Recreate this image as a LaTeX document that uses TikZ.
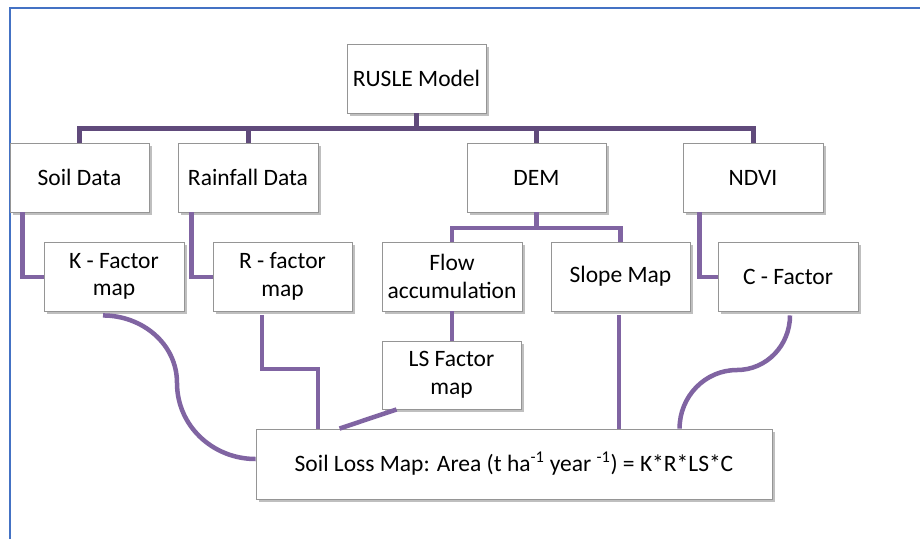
\documentclass[tikz,border=0pt]{standalone}
\usepackage{fontspec}
\setmainfont{Carlito}
\usetikzlibrary{shadows}
\definecolor{barpurple}{HTML}{604A7B}
\definecolor{linkpurple}{HTML}{8064A2}
\definecolor{boxgray}{HTML}{959595}
\definecolor{frameblue}{HTML}{4472C4}
\begin{document}
\begin{tikzpicture}[x=1pt,y=-1pt,
  box/.style={draw=boxgray, line width=0.9pt, fill=white, align=center,
    minimum width=139pt, minimum height=69pt, inner sep=0pt,
    font=\fontsize{23.5}{27.5}\selectfont,
    drop shadow={shadow xshift=2.5pt, shadow yshift=-2.5pt, opacity=0.25, fill=black}},
  topline/.style={draw=barpurple, line width=5pt},
  link/.style={draw=linkpurple, line width=4.5pt}]
\useasboundingbox (0,0) rectangle (920,539);
\fill[white] (0,0) rectangle (920,539);
\draw[frameblue, line width=1.5pt] (10,539) -- (10,8) -- (920,8);

\node[box] (rusle) at (416.5,78.5) {RUSLE Model};
\node[box] (soil)  at (79.5,177.5) {Soil Data};
\node[box, minimum width=140pt] (rain) at (248,177.5) {Rainfall Data};
\node[box] (dem)   at (536.5,177.5) {DEM};
\node[box, minimum width=140pt] (ndvi) at (753,177.5) {NDVI};
\node[box, minimum width=140pt] (kf) at (114,276.5) {K - Factor\\map};
\node[box] (rf)    at (282.5,276.5) {R - factor\\map};
\node[box, minimum width=140pt] (flow) at (452,276.5) {Flow\\accumulation};
\node[box] (slope) at (620.5,276.5) {Slope Map};
\node[box, minimum width=140pt] (cf) at (788,276.5) {C - Factor};
\node[box, minimum height=68pt] (ls) at (451.5,375) {LS Factor\\map};
\node[box, minimum width=516pt, minimum height=70pt] (loss) at (514,464)
  {Soil Loss Map: Area (t ha\textsuperscript{-1} year \textsuperscript{-1}) = K*R*LS*C};

\coordinate (bar) at (0,128);
\coordinate (dembar) at (0,228);
\coordinate (sidebar) at (0,277);
\coordinate (kmid) at (177,383);
\coordinate (rstep) at (318,369);
\coordinate (cmid) at (737,370);

% top level tree
\draw[topline] (rusle.south) -- (rusle.south |- bar);
\draw[topline] (soil.north) -- (soil.north |- bar) -- (ndvi.north |- bar) -- (ndvi.north);
\draw[topline] (rain.north) -- (rain.north |- bar);
\draw[topline] (dem.north) -- (dem.north |- bar);

% second level
\draw[link] (kf.west |- sidebar) -| ([xshift=13pt]soil.south west);
\draw[link] (rf.west |- sidebar) -| ([xshift=14pt]rain.south west);
\draw[link] (cf.west |- sidebar) -| ([xshift=17pt]ndvi.south west);
\draw[link] (dem.south) -- (dem.south |- dembar);
\draw[link] (flow.north) -- (flow.north |- dembar) -- (slope.north |- dembar) -- (slope.north);
\draw[link] (flow.south) -- (flow.south |- ls.north);

% to soil loss
\draw[link] ([xshift=-11pt,yshift=-4pt]kf.south) to[out=0,in=90] (kmid)
  to[out=-90,in=180] ([yshift=5pt]loss.west);
\draw[link] ([xshift=-20.5pt,yshift=-4pt]rf.south) |- (rstep) -- (rstep |- loss.north);
\draw[link] ([xshift=15pt]ls.south west) -- ([xshift=84pt]loss.north west);
\draw[link] ([xshift=-1.5pt,yshift=-4pt]slope.south) -- ([xshift=-1.5pt]slope.south |- loss.north);
\draw[link] ([xshift=2pt,yshift=-4pt]cf.south) to[out=-90,in=0] (cmid)
  to[out=180,in=90] ([xshift=424pt]loss.north west);
\end{tikzpicture}
\end{document}
